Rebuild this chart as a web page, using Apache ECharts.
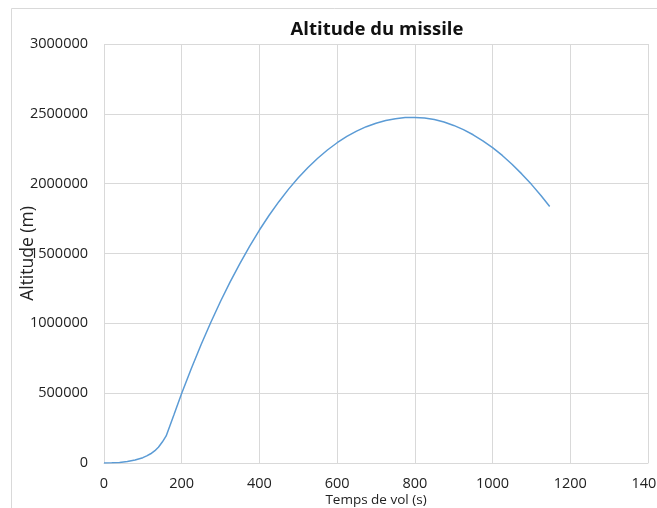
<!DOCTYPE html>
<html>
<head>
<meta charset="utf-8">
<script src="https://cdn.jsdelivr.net/npm/echarts@6/dist/echarts.min.js"></script>
<style>
  html, body { margin: 0; padding: 0; background: #ffffff; }
  #chart { width: 657px; height: 508px; }
</style>
</head>
<body>
<div id="chart"></div>
<script>
// Flight time (s) and altitude (m) of the missile trajectory
const flightTime = [0, 20, 40, 60, 80, 100, 110, 120, 131, 140, 150, 160,
  180, 200, 225, 250, 275, 300, 325, 350, 375, 400, 425, 450, 475, 500,
  525, 550, 575, 600, 625, 650, 675, 700, 725, 750, 775, 800,
  825, 850, 875, 900, 925, 950, 975, 1000, 1025, 1050, 1075, 1100, 1125, 1147];
const altitude = [0, 1000, 4000, 10000, 21000, 38000, 51000, 66000, 88000, 113000, 150000, 194000,
  345000, 500000, 679000, 848000, 1008000, 1158000, 1299000, 1430000, 1553000, 1668000, 1774000, 1871000, 1961000, 2042000,
  2116000, 2182000, 2241000, 2293000, 2338000, 2376000, 2408000, 2433000, 2452000, 2465000, 2473000, 2474000,
  2470000, 2459000, 2441000, 2417000, 2387000, 2350000, 2307000, 2258000, 2202000, 2139000, 2070000, 1995000, 1913000, 1836000];

const xTicks = [0, 200, 400, 600, 800, 1000, 1200, 1400];
const yTicks = [0, 500000, 1000000, 1500000, 2000000, 2500000, 3000000];

const chartTitle = 'Altitude du missile';
const xName = 'Temps de vol (s)';
const yName = 'Altitude (m)';

const points = flightTime.map((t, i) => [t, altitude[i]]);

const FONT = '"Open Sans", "Noto Sans", sans-serif';
const GRID_COLOR = '#d9d9d9';
const TEXT_COLOR = '#222222';
const plain = v => String(v);

const chart = echarts.init(document.getElementById('chart'), null, { renderer: 'canvas' });

chart.setOption({
  animation: false,
  backgroundColor: '#ffffff',
  graphic: [{
    type: 'rect',
    shape: { x: 11.5, y: 8.5, width: 700, height: 600 },
    style: { fill: 'none', stroke: GRID_COLOR, lineWidth: 1 },
    z: -1
  }],
  title: {
    text: chartTitle,
    left: 372,
    textAlign: 'center',
    top: 15,
    textStyle: { fontFamily: FONT, fontWeight: 'bold', fontSize: 18.5, color: '#111111' }
  },
  grid: { left: 104, top: 44, right: 9, bottom: 45, containLabel: false, outerBoundsMode: 'none' },
  xAxis: {
    type: 'value',
    min: xTicks[0],
    max: xTicks[xTicks.length - 1],
    interval: xTicks[1] - xTicks[0],
    name: xName,
    nameLocation: 'middle',
    nameGap: 30,
    nameMoveOverlap: false,
    nameTextStyle: { fontFamily: FONT, fontSize: 13.5, color: TEXT_COLOR },
    axisLine: { show: true, lineStyle: { color: GRID_COLOR, width: 1 } },
    axisTick: { show: false },
    axisLabel: { fontFamily: FONT, fontSize: 14.5, color: TEXT_COLOR, margin: 13, formatter: plain, hideOverlap: false },
    splitLine: { show: true, lineStyle: { color: GRID_COLOR, width: 1 } }
  },
  yAxis: {
    type: 'value',
    min: yTicks[0],
    max: yTicks[yTicks.length - 1],
    interval: yTicks[1] - yTicks[0],
    name: yName,
    nameLocation: 'middle',
    nameRotate: 90,
    nameGap: 67,
    nameMoveOverlap: false,
    nameTextStyle: { fontFamily: FONT, fontSize: 17.5, color: TEXT_COLOR },
    axisLine: { show: false },
    axisTick: { show: false },
    axisLabel: { fontFamily: FONT, fontSize: 14.5, color: TEXT_COLOR, margin: 16, formatter: plain },
    splitLine: { show: true, lineStyle: { color: GRID_COLOR, width: 1 } }
  },
  series: [{
    type: 'line',
    data: points,
    showSymbol: false,
    smooth: false,
    lineStyle: { color: '#5b9bd5', width: 1.5 },
    itemStyle: { color: '#5b9bd5' }
  }]
});
</script>
</body>
</html>
